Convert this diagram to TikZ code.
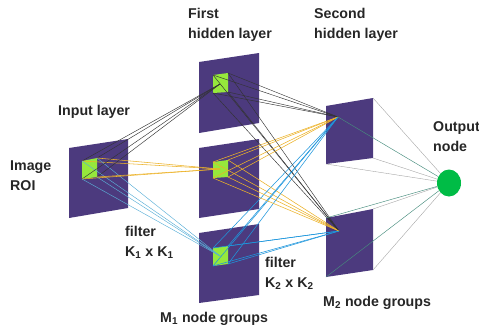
\documentclass[tikz,border=0pt]{standalone}
\usepackage{fontspec}
\setmainfont{Liberation Sans}
\usetikzlibrary{shapes.geometric}
\begin{document}
\begin{tikzpicture}[x=1pt,y=-1pt,
  plane/.style={fill=planecol,draw=none},
  filt/.style={fill=filtcol,draw=none},
  lbl/.style={font=\fontsize{14.2}{20}\selectfont\bfseries,text=black!85,inner sep=0pt,align=left,anchor=west},
  wblack/.style={draw=black!80,line width=0.45pt},
  wgold/.style={draw=goldcol,line width=0.55pt},
  wblue/.style={draw=bluecol,line width=0.55pt},
  wcyan/.style={draw=cyancol,line width=0.45pt},
  wgrey/.style={draw=black!35,line width=0.4pt},
  wteal/.style={draw=tealcol,line width=0.45pt}]
\definecolor{planecol}{RGB}{76,58,126}
\definecolor{filtcol}{RGB}{150,232,60}
\definecolor{outcol}{RGB}{0,188,70}
\definecolor{goldcol}{RGB}{236,178,40}
\definecolor{bluecol}{RGB}{30,150,220}
\definecolor{cyancol}{RGB}{90,175,215}
\definecolor{tealcol}{RGB}{70,140,125}
\useasboundingbox (0,0) rectangle (479,330);

% layer planes: corners tl, tr, br, bl
\foreach \n/\xl/\xr/\ytl/\ytr/\ybr/\ybl in {
   in/69/128/148/139/208/218,
   ha/199/259/62/53/123/133,
   hb/199/259/148/139/209/218,
   hc/199/259/233/224/295/303,
   sa/326/373/106/98/158/164,
   sb/326/373/218/209/270/277}{
  \coordinate (\n-tl) at (\xl,\ytl);
  \coordinate (\n-tr) at (\xr,\ytr);
  \coordinate (\n-br) at (\xr,\ybr);
  \coordinate (\n-bl) at (\xl,\ybl);
  \fill[plane] (\n-tl) -- (\n-tr) -- (\n-br) -- (\n-bl) -- cycle;
}

% filter windows
\foreach \n/\xl/\xr/\ytl/\ytr/\ybr/\ybl in {
   fin/82/97/161/158/177/179,
   fa/213/228/75/73/92/93,
   fb/213/228/162/160/177/178,
   fc/213/228/248/246/264/266}{
  \coordinate (\n-tl) at (\xl,\ytl);
  \coordinate (\n-tr) at (\xr,\ytr);
  \coordinate (\n-br) at (\xr,\ybr);
  \coordinate (\n-bl) at (\xl,\ybl);
  \fill[filt] (\n-tl) -- (\n-tr) -- (\n-br) -- (\n-bl) -- cycle;
}

% receiving nodes
\coordinate (ra) at (220,84);
\coordinate (rb) at (220,169);
\coordinate (rc) at (220,256);
\coordinate (pa) at (338,117);
\coordinate (pb) at (339,231);
\node[ellipse,fill=outcol,minimum width=24pt,minimum height=27pt,inner sep=0pt] (out) at (449,183) {};

% input window to first hidden layer
\foreach \c in {tl,tr,br,bl}{
  \draw[wblack] (fin-\c) -- (ra);
  \draw[wgold] (fin-\c) -- (rb);
  \draw[wcyan] (fin-\c) -- (rc);
}

% first hidden layer windows to second hidden layer
\foreach \c in {tl,tr,br,bl}{
  \draw[wblack] (fa-\c) -- (pa);
  \draw[wblack] (fa-\c) -- (pb);
  \draw[wgold] (fb-\c) -- (pa);
  \draw[wgold] (fb-\c) -- (pb);
  \draw[wblue] (fc-\c) -- (pa);
  \draw[wblue] (fc-\c) -- (pb);
}

% second hidden layer to output
\foreach \c in {tr,br,bl}{\draw[wgrey] (sa-\c) -- (out);}
\draw[wteal] (pa) -- (out);
\foreach \c in {tr,br}{\draw[wgrey] (sb-\c) -- (out);}
\draw[wteal] (sb-tl) -- (out);
\draw[wteal] (sb-bl) -- (out);

% labels
\node[lbl] (tin) at (58,112) {Input layer};
\node[lbl] (troi) at (10,176) {Image\\ROI};
\node[lbl] (tf1) at (125,242) {filter\\K\textsubscript{1} x K\textsubscript{1}};
\node[lbl] (th1) at (188,25) {First\\hidden layer};
\node[lbl] (th2) at (314,25) {Second\\hidden layer};
\node[lbl] (tout) at (433,137) {Output\\node};
\node[lbl] (tf2) at (265,273) {filter\\K\textsubscript{2} x K\textsubscript{2}};
\node[lbl] (tm1) at (160,319) {M\textsubscript{1} node groups};
\node[lbl] (tm2) at (323,303) {M\textsubscript{2} node groups};
\end{tikzpicture}
\end{document}
